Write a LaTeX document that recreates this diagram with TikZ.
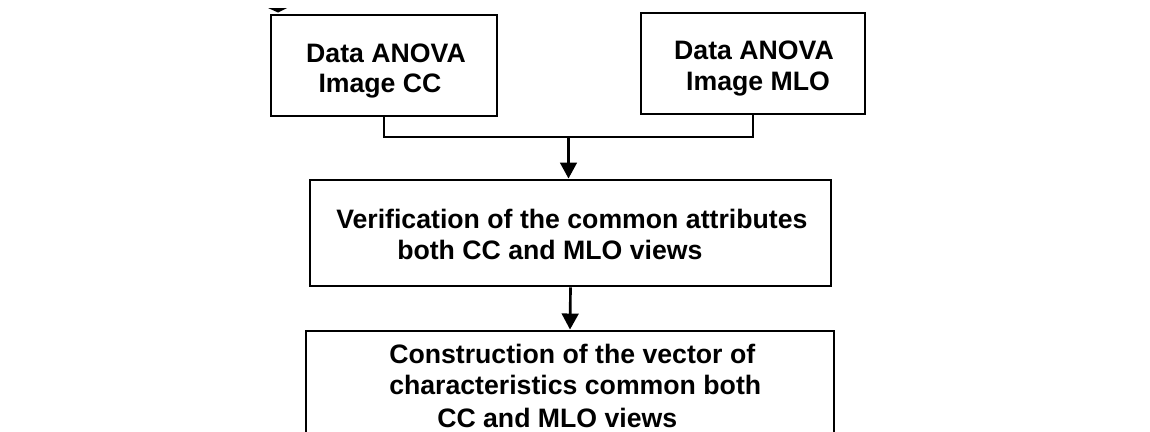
\documentclass[tikz,border=0pt]{standalone}
\usepackage{fontspec}
\setmainfont{Liberation Sans}
\usetikzlibrary{arrows.meta}
\tikzset{
  boxnode/.style={draw=black, line width=2.2pt, rectangle, inner sep=0pt},
  lbl/.style={font=\bfseries\fontsize{20}{24}\selectfont, inner sep=0pt, anchor=base, text=black},
  conn/.style={draw=black, line width=2pt},
  arr/.style={conn, -{Triangle[width=12.5pt,length=12pt]}}
}
\begin{document}
\begin{tikzpicture}[x=0.75pt, y=-0.75pt]
\useasboundingbox (0,0) rectangle (1150,432);
\clip (0,0) rectangle (1150,432);
% boxes
\node[boxnode, minimum width={226*0.75pt}, minimum height={101*0.75pt}] (cc) at (384,65.5) {};
\node[boxnode, minimum width={224*0.75pt}, minimum height={101*0.75pt}] (mlo) at (753,63.5) {};
\node[boxnode, minimum width={521*0.75pt}, minimum height={106*0.75pt}] (ver) at (570.5,233) {};
\node[boxnode, minimum width={528*0.75pt}, minimum height={140*0.75pt}] (con) at (570,401) {};
% texts
\node[lbl] (cc1) at (386,62) {Data ANOVA};
\node[lbl] (cc2) at (380,92) {Image CC};
\node[lbl] (ml1) at (754,60) {Data ANOVA};
\node[lbl] (ml2) at (758,90) {Image MLO};
\node[lbl, anchor=base west] (v1) at (336,228) {Verification of the common attributes};
\node[lbl, anchor=base west] (v2) at (397,259) {both CC and MLO views};
\node[lbl, anchor=base west] (c1) at (389,363) {Construction of the vector of};
\node[lbl, anchor=base west] (c2) at (389,394) {characteristics common both};
\node[lbl, anchor=base west] (c3) at (437,427) {CC and MLO views};
% connectors
\coordinate (j) at (568.5,137);
\draw[conn] (cc.south) |- (mlo.south |- j) -- (mlo.south);
\draw[arr] (j) -- (j |- ver.north);
\draw[arr] (ver.south) -- (con.north);
% small clipped mark at top left
\fill[black] (268,8) -- (287,8) -- (278,12.5) -- cycle;
\end{tikzpicture}
\end{document}
